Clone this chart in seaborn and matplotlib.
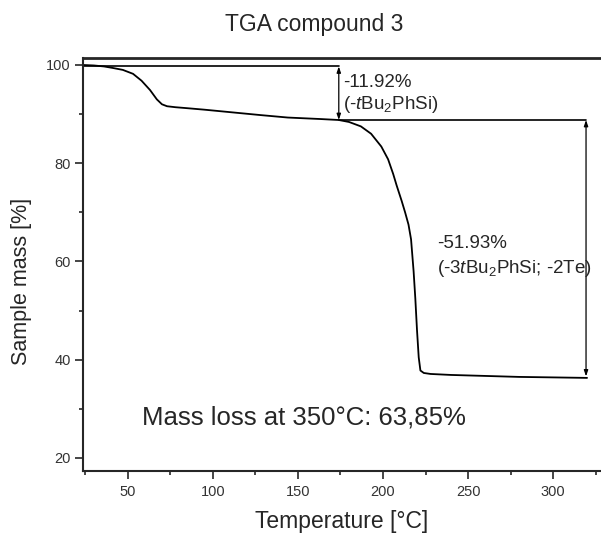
import numpy as np
import pandas as pd
import matplotlib
matplotlib.use('Agg')
import matplotlib.pyplot as plt
import seaborn as sns
from matplotlib.ticker import MultipleLocator

# TGA trace
temperature = [23.4, 30, 36, 41, 47, 53, 58, 63, 67, 70, 73, 78, 85, 95, 110, 128, 144, 163,
               174, 180, 187, 193, 199, 203, 206, 208, 211, 213, 215, 216.5, 218, 219, 220,
               221, 222, 224, 228, 240, 260, 280, 300, 320]
mass = [100, 99.9, 99.7, 99.4, 99.0, 98.2, 96.8, 94.9, 93.0, 92.0, 91.6, 91.4, 91.2, 90.9,
        90.4, 89.8, 89.3, 89.0, 88.8, 88.4, 87.5, 86.0, 83.4, 80.8, 77.8, 75.5, 72.3, 70.0,
        67.5, 64.5, 58.0, 52.5, 46.0, 40.5, 37.8, 37.3, 37.1, 36.9, 36.7, 36.5, 36.4, 36.3]

# step annotations
start_level = 99.7
plateau_level = 88.8
end_level = 36.6
step1_T = 174
step2_T = 319.4
step1_label = ['-11.92%', r'(-$\mathit{t}$Bu$_2$PhSi)']
step2_label = ['-51.93%', r'(-3$\mathit{t}$Bu$_2$PhSi; -2Te)']
summary_text = 'Mass loss at 350°C: 63,85%'

df = pd.DataFrame({'T': temperature, 'mass': mass})

sns.set_style('ticks')
plt.rcParams['font.family'] = ['Liberation Sans', 'DejaVu Sans']
plt.rcParams['mathtext.fontset'] = 'custom'
plt.rcParams['mathtext.rm'] = 'Liberation Sans'
plt.rcParams['mathtext.it'] = 'Liberation Sans:italic'

fig = plt.figure(figsize=(6.01, 5.39), dpi=100)
ax = fig.add_axes([0.1376, 0.1262, 0.8624, 0.766])

sns.lineplot(data=df, x='T', y='mass', color='black', linewidth=1.3, ax=ax)

ax.set_xlim(23.4, 328.2)
ax.set_ylim(17.35, 101.4)
ax.xaxis.set_major_locator(MultipleLocator(50))
ax.xaxis.set_minor_locator(MultipleLocator(25))
ax.yaxis.set_major_locator(MultipleLocator(20))
ax.yaxis.set_minor_locator(MultipleLocator(10))
ax.tick_params(which='major', length=5.5, width=1.2, labelsize=10.5, labelcolor='#333333', pad=3)
ax.tick_params(which='minor', length=3, width=1.2)
ax.tick_params(axis='x', which='major', pad=4.5)
for s in ['left', 'bottom', 'top']:
    ax.spines[s].set_linewidth(1.5)
ax.spines['top'].set_linewidth(2)
ax.spines['right'].set_visible(False)

ax.set_xlabel('Temperature [°C]', fontsize=16.5, labelpad=8)
ax.set_ylabel('Sample mass [%]', fontsize=15.5)
ax.yaxis.set_label_coords(-0.097, 0.46)
fig.text(0.522, 0.955, 'TGA compound 3', ha='center', va='center', fontsize=16.5)

arrow_style = dict(arrowstyle='<|-|>,head_length=0.35,head_width=0.12',
                   color='black', lw=0.9, shrinkA=0, shrinkB=0)

# step 1
ax.plot([ax.get_xlim()[0], step1_T], [start_level, start_level], color='black', lw=1.2)
ax.annotate('', xy=(step1_T, start_level), xytext=(step1_T, plateau_level), arrowprops=arrow_style)
ax.text(176.5, 95.6, step1_label[0], fontsize=13.5, va='baseline', ha='left')
ax.text(176.5, 91.1, step1_label[1], fontsize=13.5, va='baseline', ha='left')

# step 2
ax.plot([step1_T, step2_T], [plateau_level, plateau_level], color='black', lw=1.2)
ax.annotate('', xy=(step2_T, plateau_level), xytext=(step2_T, end_level), arrowprops=arrow_style)
ax.text(231.6, 62.8, step2_label[0], fontsize=13.5, va='baseline', ha='left')
ax.text(231.6, 57.7, step2_label[1], fontsize=13.5, va='baseline', ha='left')

ax.text(58.3, 26.8, summary_text, fontsize=18.5, va='baseline', ha='left')

fig.savefig('out.png', dpi=100)
